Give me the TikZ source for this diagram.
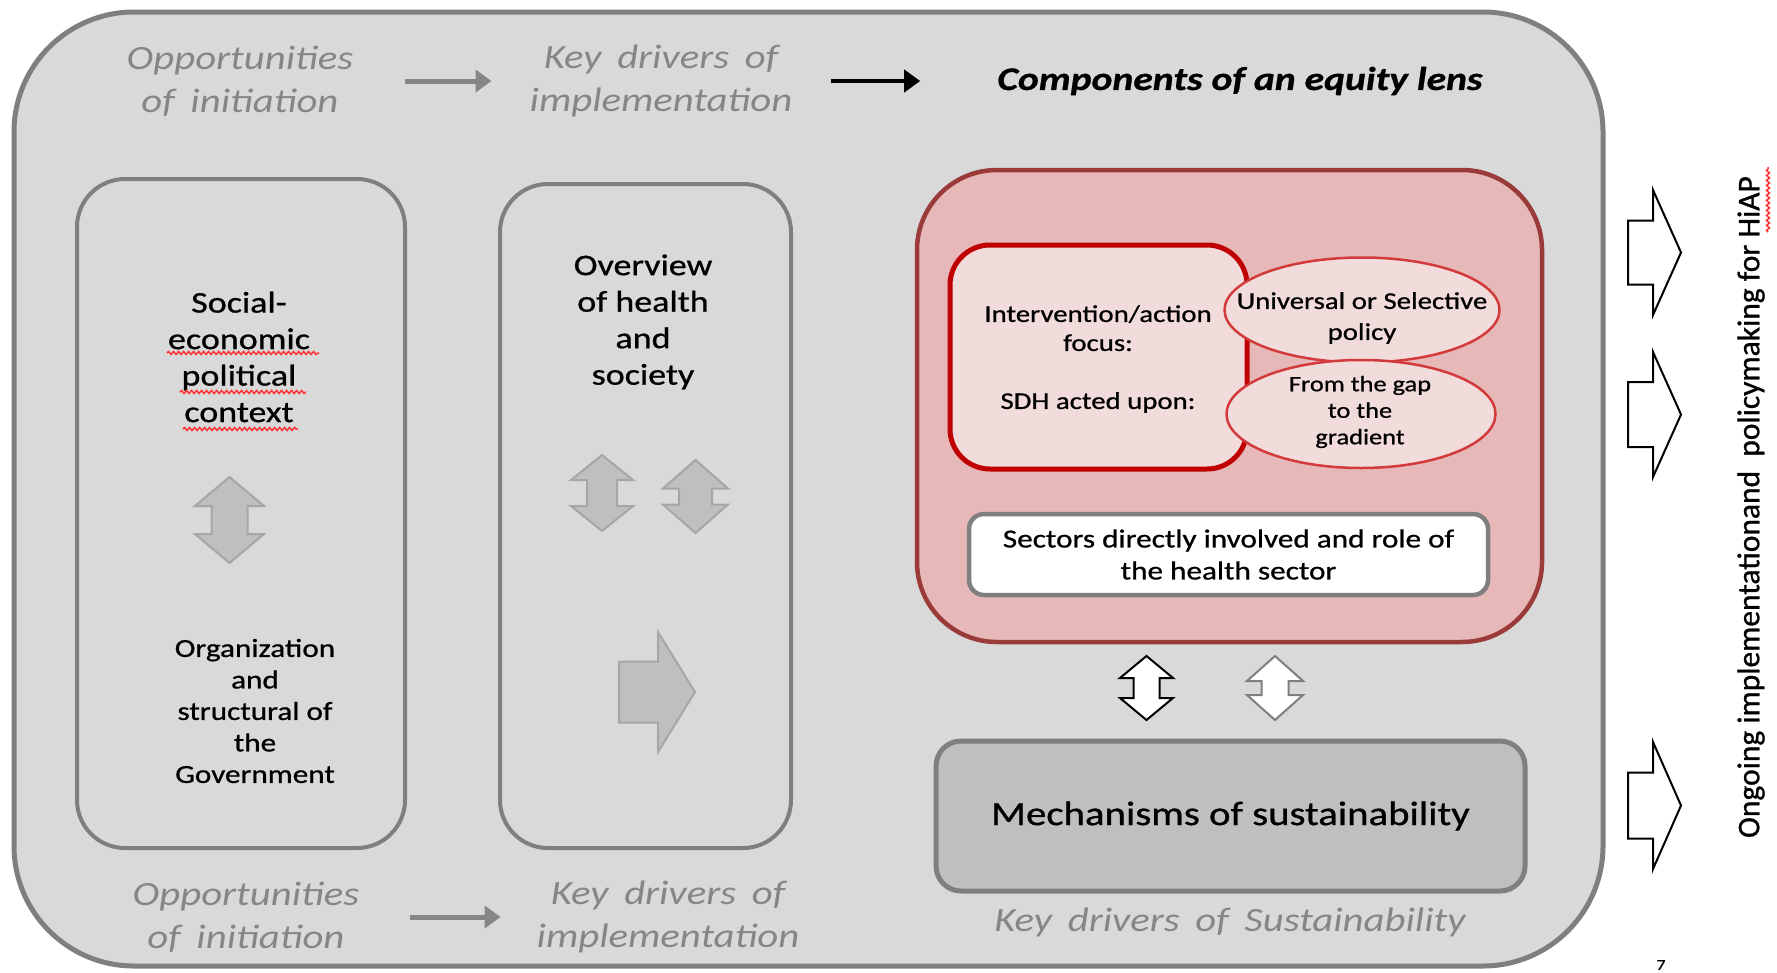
\documentclass[tikz,border=0pt]{standalone}
\usepackage{fontspec}
\setmainfont{Carlito}[FakeStretch=1.2,FakeBold=0.8]
\newfontfamily\capfont{Carlito}[FakeStretch=1.2,WordSpace=1.7]
\newfontfamily\sidefont{Carlito}[FakeBold=0.8]
\usetikzlibrary{positioning,shapes.geometric,arrows.meta,decorations.pathmorphing}

\definecolor{panel}{HTML}{D9D9D9}
\definecolor{rim}{HTML}{7F7F7F}
\definecolor{caption}{HTML}{868686}
\definecolor{blockfill}{HTML}{BFBFBF}
\definecolor{blockrim}{HTML}{A6A6A6}
\definecolor{lensfill}{HTML}{E6B9B8}
\definecolor{lensrim}{HTML}{9B3B39}
\definecolor{softpink}{HTML}{F2DCDB}
\definecolor{deepred}{HTML}{C00000}
\definecolor{ovalrim}{HTML}{D23A3C}

\newcommand{\txt}[2]{\fontsize{#1}{#2}\selectfont}
% two-headed block arrow: x, y, half head, half shaft, half length, head length
\newcommand{\updown}[7][]{%
  \draw[#1] (#2,#3-#6) -- (#2+#4,#3-#6+#7) -- (#2+#5,#3-#6+#7) -- (#2+#5,#3+#6-#7)
    -- (#2+#4,#3+#6-#7) -- (#2,#3+#6) -- (#2-#4,#3+#6-#7) -- (#2-#5,#3+#6-#7)
    -- (#2-#5,#3-#6+#7) -- (#2-#4,#3-#6+#7) -- cycle;}
% block arrow to the right: tail x, neck x, tip x, y, half shaft, half head
\newcommand{\rightblock}[7][]{%
  \draw[#1] (#2,#5-#6) -- (#3,#5-#6) -- (#3,#5-#7) -- (#4,#5) -- (#3,#5+#7)
    -- (#3,#5+#6) -- (#2,#5+#6) -- cycle;}

\begin{document}
\begin{tikzpicture}[x=1pt,y=-1pt,
    panel/.style={draw=rim, fill=panel, line width=5pt, rounded corners=120pt, inner sep=0},
    column/.style={draw=rim, line width=4pt, rounded corners=48pt, inner sep=0},
    caption/.style={text=caption, font=\capfont\itshape\txt{34}{43}, align=center, inner sep=0},
    body/.style={align=center, inner sep=0},
    flow/.style={line width=5pt, -{Triangle[length=16pt,width=22pt]}},
    block/.style={fill=blockfill, draw=blockrim, line width=2pt},
    hollow/.style={fill=white, draw=black, line width=2pt},
    oval/.style={ellipse, draw=ovalrim, fill=softpink, line width=2.5pt, inner sep=0},
    spellmark/.style={draw=red!80, line width=1.5pt, decorate,
      decoration={snake, amplitude=1.5pt, segment length=5pt}}]

\path[use as bounding box, fill=white] (0,0) rectangle (1777,972);

\node[panel, minimum width=1589pt, minimum height=954pt] (frame) at (808.5,489) {};

% the two left columns
\node[column, minimum width=328pt, minimum height=669pt] (colA) at (241,513.5) {};
\node[column, minimum width=291pt, minimum height=664pt] (colB) at (645.5,516) {};

\node[body, font=\txt{30}{36.5}] (context) at (239,357) {Social-\\economic\\political\\context};
\node[body, font=\txt{26}{31.5}] (gov) at (255,711) {Organization\\and\\structural of\\the\\Government};
\node[body, font=\txt{30}{36.5}] (overview) at (643,322) {Overview\\of health\\and\\society};

\draw[spellmark] (167,353) -- (319,353);
\draw[spellmark] (180,392) -- (306,392);
\draw[spellmark] (183,429) -- (298,429);

\updown[block]{229.5}{520}{34.5}{18}{43}{29}
\updown[block]{602}{493}{31}{15}{38}{25}
\updown[block]{695.5}{496.5}{32.5}{16.5}{36.5}{28.5}
\rightblock[block]{619}{658}{695}{692}{30.5}{60}

% equity lens
\node[draw=lensrim, fill=lensfill, line width=4.5pt, rounded corners=80pt,
  minimum width=625pt, minimum height=472pt] (lens) at (1229.5,406) {};
\node[draw=deepred, fill=softpink, line width=5pt, rounded corners=40pt,
  minimum width=297pt, minimum height=224pt] (action) at (1098.5,357) {};
\node[body, font=\txt{24}{29}] (focus) at (1098,359) {Intervention/action\\focus:\\[29pt]SDH acted upon:};
\node[oval, minimum width=275pt, minimum height=105pt] (universal) at (1362,310) {};
\node[body, font=\txt{24}{31}] at (1362,318) {Universal or Selective\\policy};
\node[oval, minimum width=269pt, minimum height=108pt] (gradient) at (1361,414) {};
\node[body, font=\txt{22}{26.5}] at (1360,412) {From the gap\\to the\\gradient};
\node[draw=rim, fill=white, line width=4.5pt, rounded corners=15pt, align=center,
  minimum width=519pt, minimum height=81pt, font=\txt{26}{32}] (sectors) at (1228.5,554.5)
  {Sectors directly involved and role of\\the health sector};

\updown[hollow]{1146.5}{688}{26.5}{13}{32}{22}
\updown[hollow, draw=rim]{1275}{688}{28}{13.5}{32}{25}

\node[draw=rim, fill=blockfill, line width=5pt, rounded corners=25pt,
  minimum width=589pt, minimum height=150pt, font=\txt{34}{40}] (mech) at (1230.5,816)
  {Mechanisms of sustainability};

% captions
\node[caption] (oppTop) at (240,81) {Opportunities\\of initiation};
\node[caption] (keyTop) at (661,81) {Key drivers of\\implementation};
\node[font=\bfseries\itshape\txt{33}{40}, inner sep=0] (lensTitle) at (1240,81) {Components of an equity lens};
\node[caption] (oppBot) at (246,917) {Opportunities\\of initiation};
\node[caption] (keyBot) at (668,917) {Key drivers of\\implementation};
\node[caption] (keySust) at (1230,922) {Key drivers of Sustainability};

\draw[flow, draw=caption, shorten <=51pt, shorten >=38pt] (oppTop) -- (keyTop);
\draw[flow, line width=4pt, shorten <=39pt, shorten >=77pt] (keyTop) -- (lensTitle);
\draw[flow, draw=caption, shorten <=50pt, shorten >=36pt] (oppBot) -- (keyBot);

% outcome side
\rightblock[hollow]{1628}{1653}{1681}{252.5}{32}{62.5}
\rightblock[hollow]{1628}{1653}{1681}{414.5}{32.5}{62.5}
\rightblock[hollow]{1628}{1653}{1681}{805.5}{33}{63.5}
\node[font=\sidefont\txt{31.5}{36}, rotate=90, inner sep=0] (ongoing) at (1751,507)
  {Ongoing implementationand\ \ policymaking for HiAP};
\draw[spellmark] (1768,232) -- (1768,167);

\node[font=\txt{15}{18}, anchor=south, inner sep=0] (pageno) at (1661,970) {7};
\end{tikzpicture}
\end{document}
